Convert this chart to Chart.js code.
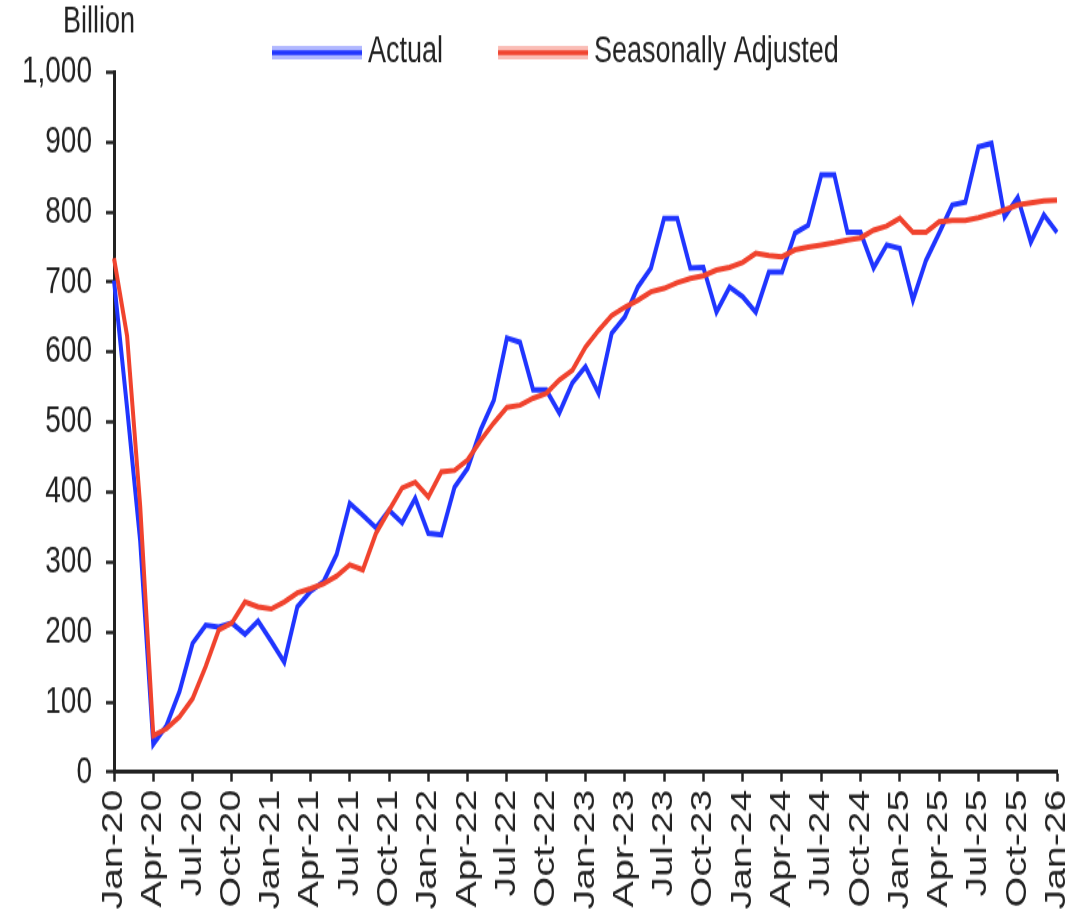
<!DOCTYPE html>
<html>
<head>
<meta charset="utf-8">
<title>Actual vs Seasonally Adjusted</title>
<script src="https://cdn.jsdelivr.net/npm/chart.js@4/dist/chart.umd.min.js"></script>
<style>
    html, body { margin: 0; padding: 0; background: #fff; }
</style>
</head>
<body>
<!-- the source picture is stretched vertically, so the canvas is drawn short and scaled up -->
<canvas id="chart" width="1084" height="677" style="display:block;width:1084px;height:914px;"></canvas>
<script>
const months = [
    'Jan-20', 'Feb-20', 'Mar-20', 'Apr-20', 'May-20', 'Jun-20', 'Jul-20', 'Aug-20', 'Sep-20', 'Oct-20', 'Nov-20', 'Dec-20',
    'Jan-21', 'Feb-21', 'Mar-21', 'Apr-21', 'May-21', 'Jun-21', 'Jul-21', 'Aug-21', 'Sep-21', 'Oct-21', 'Nov-21', 'Dec-21',
    'Jan-22', 'Feb-22', 'Mar-22', 'Apr-22', 'May-22', 'Jun-22', 'Jul-22', 'Aug-22', 'Sep-22', 'Oct-22', 'Nov-22', 'Dec-22',
    'Jan-23', 'Feb-23', 'Mar-23', 'Apr-23', 'May-23', 'Jun-23', 'Jul-23', 'Aug-23', 'Sep-23', 'Oct-23', 'Nov-23', 'Dec-23',
    'Jan-24', 'Feb-24', 'Mar-24', 'Apr-24', 'May-24', 'Jun-24', 'Jul-24', 'Aug-24', 'Sep-24', 'Oct-24', 'Nov-24', 'Dec-24',
    'Jan-25', 'Feb-25', 'Mar-25', 'Apr-25', 'May-25', 'Jun-25', 'Jul-25', 'Aug-25', 'Sep-25', 'Oct-25', 'Nov-25', 'Dec-25',
    'Jan-26'
];

const actual = [
    702, 520, 330, 40, 66, 115, 184, 210, 207, 213, 197, 216,
    187, 157, 236, 258, 272, 311, 384, 367, 349, 374, 356, 391,
    341, 339, 407, 434, 489, 531, 620, 614, 546, 546, 513, 556,
    579, 541, 627, 650, 693, 720, 791, 791, 720, 721, 657, 693,
    679, 657, 714, 714, 770, 781, 853, 853, 771, 771, 720, 753,
    748, 674, 731, 770, 810, 814, 893, 898, 793, 821, 757, 796,
    771
];

const seasonallyAdjusted = [
    734, 623, 380, 52, 62, 79, 105, 151, 203, 213, 243, 236,
    233, 243, 256, 262, 269, 280, 296, 289, 341, 374, 406, 414,
    393, 429, 431, 446, 474, 499, 521, 524, 534, 541, 560, 574,
    607, 631, 652, 664, 674, 686, 691, 699, 705, 709, 717, 721,
    728, 741, 738, 736, 746, 750, 753, 756, 760, 763, 774, 780,
    791, 771, 771, 786, 788, 788, 792, 797, 803, 810, 813, 816,
    817
];

const BLUE = '#2035ff';
const RED = '#f0432e';
const TEXT = '#222222';
const FONT = "'Liberation Sans', Arial, sans-serif";

/**
 * Unit label above the y axis and a line-style legend centred over the plot
 */
const headerPlugin = {
    id: 'header',
    afterDraw(chart) {
        const ctx = chart.ctx;
        ctx.save();
        ctx.font = `27px ${FONT}`;
        ctx.fillStyle = TEXT;
        ctx.textBaseline = 'middle';
        ctx.textAlign = 'left';
        ctx.fillText('Billion', 63, 17);

        const y = 39;
        let x = 272;
        chart.data.datasets.forEach(ds => {
            // soft halo then the solid stroke
            ctx.lineCap = 'butt';
            ctx.strokeStyle = ds.borderColor;
            ctx.globalAlpha = 0.35;
            ctx.lineWidth = 10;
            ctx.beginPath();
            ctx.moveTo(x, y);
            ctx.lineTo(x + 90, y);
            ctx.stroke();
            ctx.globalAlpha = 1;
            ctx.lineWidth = 3.5;
            ctx.beginPath();
            ctx.moveTo(x, y);
            ctx.lineTo(x + 90, y);
            ctx.stroke();

            ctx.fillStyle = TEXT;
            ctx.fillText(ds.label, x + 96, y);
            x += 96 + ctx.measureText(ds.label).width + 55;
        });
        ctx.restore();
    }
};

const chartData = {
    labels: months,
    datasets: [
        {
            label: 'Actual',
            data: actual,
            borderColor: BLUE,
            backgroundColor: BLUE,
            borderWidth: 4,
            pointRadius: 0,
            tension: 0,
            order: 2
        },
        {
            label: 'Seasonally Adjusted',
            data: seasonallyAdjusted,
            borderColor: RED,
            backgroundColor: RED,
            borderWidth: 4,
            pointRadius: 0,
            tension: 0,
            order: 1 // drawn over the actual series
        }
    ]
};

const options = {
    responsive: false,
    animation: false,
    devicePixelRatio: 1,
    layout: {
        padding: { top: 53.3, right: 27, bottom: 0, left: 0 }
    },
    plugins: {
        legend: { display: false },
        tooltip: { enabled: false }
    },
    scales: {
        x: {
            afterFit: (scale) => {
                scale.height = 105.1;
                scale.paddingRight = 0; // last rotated label fits inside the right margin
            },
            border: { color: TEXT, width: 3 },
            grid: {
                drawOnChartArea: false,
                drawTicks: true,
                tickLength: 7,
                tickWidth: 2.5,
                tickColor: (context) => context.index % 3 === 0 ? TEXT : 'rgba(0,0,0,0)'
            },
            ticks: {
                autoSkip: false,
                minRotation: 90,
                maxRotation: 90,
                padding: 6,
                color: TEXT,
                font: { family: FONT, size: 29 },
                callback: (value, index) => index % 3 === 0 ? months[index] : ''
            }
        },
        y: {
            min: 0,
            max: 1000,
            afterFit: (scale) => { scale.width = 114; },
            border: { color: TEXT, width: 3 },
            grid: {
                drawOnChartArea: false,
                drawTicks: true,
                tickLength: 8,
                tickWidth: 2.5,
                tickColor: TEXT
            },
            ticks: {
                stepSize: 100,
                padding: 14,
                color: TEXT,
                font: { family: FONT, size: 28 },
                callback: (value) => value.toLocaleString('en-US')
            }
        }
    }
};

new Chart(document.getElementById('chart'), {
    type: 'line',
    data: chartData,
    options: options,
    plugins: [headerPlugin]
});
</script>
</body>
</html>
